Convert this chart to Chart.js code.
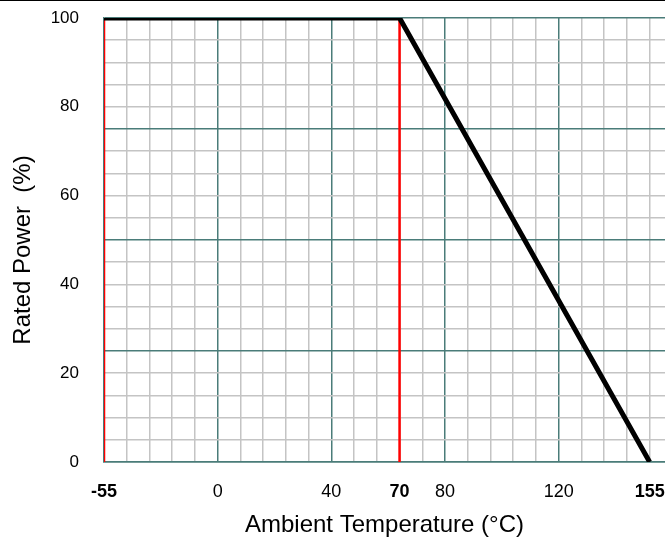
<!DOCTYPE html>
<html lang="en">
<head>
  <meta charset="UTF-8">
  <title>Power Derating Curve</title>
  <script src="https://cdn.jsdelivr.net/npm/chart.js"></script>
  <style>
    body { margin: 0; background: #fff; }
    .wrap { position: relative; width: 665px; height: 537px; }
    .topline { position: absolute; left: 0; top: 0; width: 665px; height: 1px; background: #000; }
  </style>
</head>
<body>
  <div class="wrap">
    <canvas id="derating" width="665" height="537"></canvas>
    <div class="topline"></div>
  </div>

  <script>
    // x positions are in grid units of the printed chart (one minor cell = 8)
    const xTickPos  = [-40, 0, 40, 64, 80, 120, 152];
    const xTickText = ['-55', '0', '40', '70', '80', '120', '155'];
    const xBoldText = ['-55', '70', '155'];

    // derating curve: rated power (%) vs ambient temperature
    const curveX = [-40, 64, 152];
    const curveY = [100, 100, 0];

    // red limit markers at -55 and 70
    const limitX = [-40, 64];

    const minorColor = '#c4c4c4';
    const majorColor = '#4a7c79';
    const fontFamily = "'Liberation Sans', Arial, sans-serif";

    const datasets = [{
      data: curveX.map((x, i) => ({ x: x, y: curveY[i] })),
      borderColor: '#000',
      borderWidth: 5,
      pointRadius: 0,
      tension: 0
    }];
    limitX.forEach(x => {
      datasets.push({
        data: [{ x: x, y: 0 }, { x: x, y: 100 }],
        borderColor: '#ff0000',
        borderWidth: 2.5,
        pointRadius: 0
      });
    });

    // keep the plot box where the printed one is
    function noPad(scale) {
      scale.paddingLeft = 0;
      scale.paddingRight = 0;
      scale.paddingTop = 0;
      scale.paddingBottom = 0;
    }

    const ctx = document.getElementById('derating').getContext('2d');
    new Chart(ctx, {
      type: 'line',
      data: { datasets: datasets },
      options: {
        responsive: false,
        animation: false,
        devicePixelRatio: 1,
        layout: { autoPadding: false, padding: { top: 18, left: 0, right: 0, bottom: 0 } },
        plugins: {
          legend: { display: false },
          tooltip: { enabled: false }
        },
        scales: {
          x: {
            type: 'linear',
            min: -40,
            max: 157.4,
            afterBuildTicks: scale => {
              const t = [];
              for (let v = -40; v <= 152; v += 8) t.push({ value: v });
              scale.ticks = t;
            },
            afterFit: scale => { scale.height = 75; noPad(scale); },
            grid: {
              drawTicks: false,
              lineWidth: 1.5,
              color: c => (c.tick && c.tick.value % 40 === 0) ? majorColor : minorColor
            },
            border: { display: true, color: majorColor, width: 1.5 },
            ticks: {
              padding: 19,
              autoSkip: false,
              maxRotation: 0,
              color: '#000',
              font: c => ({
                family: fontFamily,
                size: 18,
                weight: xBoldText.includes(xTickText[xTickPos.indexOf(c.tick && c.tick.value)]) ? 'bold' : 'normal'
              }),
              callback: v => {
                const i = xTickPos.indexOf(v);
                return i >= 0 ? xTickText[i] : '';
              }
            },
            title: {
              display: true,
              text: 'Ambient Temperature (°C)',
              color: '#000',
              font: { family: fontFamily, size: 24, lineHeight: 1 },
              padding: { top: 0, bottom: 0 }
            }
          },
          y: {
            type: 'linear',
            min: 0,
            max: 100,
            afterFit: scale => { scale.width = 104; noPad(scale); },
            grid: {
              drawTicks: false,
              lineWidth: 1.5,
              color: c => (c.tick && c.tick.value % 25 === 0) ? majorColor : minorColor
            },
            border: { display: true, color: majorColor, width: 1.5 },
            ticks: {
              stepSize: 5,
              padding: 25,
              autoSkip: false,
              color: '#000',
              font: { family: fontFamily, size: 17 },
              callback: v => (v % 20 === 0 ? v : '')
            },
            title: {
              display: true,
              text: 'Rated Power  (%)   ',
              color: '#000',
              font: { family: fontFamily, size: 24 },
              padding: { top: 9, bottom: 0 }
            }
          }
        }
      }
    });
  </script>
</body>
</html>
